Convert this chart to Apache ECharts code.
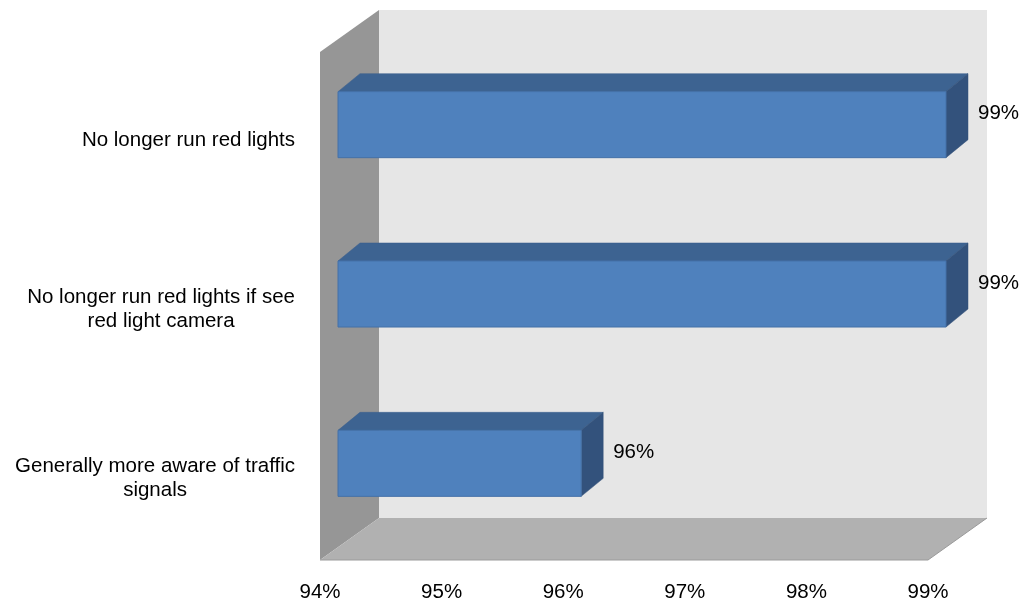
<!DOCTYPE html>
<html>
<head>
<meta charset="utf-8">
<script src="https://cdn.jsdelivr.net/npm/echarts@6/dist/echarts.min.js"></script>
<style>
html,body{margin:0;padding:0;background:#fff;}
#chart{width:1026px;height:603px;}
</style>
</head>
<body>
<div id="chart"></div>
<script>
// ---- data ----
const categories = [
  'No longer run red lights',
  'No longer run red lights if see\nred light camera',
  'Generally more aware of traffic\nsignals'
];
const values = [99, 99, 96];
const axisMin = 94;
const axisMax = 99;
const axisStep = 1;

// ---- styles ----
const FONT = 'Liberation Sans, Arial, sans-serif';
const BOX_DX = 59, BOX_DY = -42;       // depth of the 3D box
const BAR_FDX = 18, BAR_FDY = -12;     // bar front face offset
const BAR_BDX = 40, BAR_BDY = -30;     // bar back face offset
const BAR_RATIO = 0.39;

const chart = echarts.init(document.getElementById('chart'), null, {renderer: 'canvas'});

function renderWalls(params, api) {
  const cs = params.coordSys;
  const x0 = cs.x, y0 = cs.y, x1 = cs.x + cs.width, y1 = cs.y + cs.height;
  return {
    type: 'group',
    children: [
      { type: 'rect', shape: {x: x0 + BOX_DX, y: y0 + BOX_DY, width: cs.width, height: cs.height},
        style: {fill: '#e6e6e6'} },
      { type: 'polygon', shape: {points: [[x0, y0], [x0 + BOX_DX, y0 + BOX_DY], [x0 + BOX_DX, y1 + BOX_DY], [x0, y1]]},
        style: {fill: '#969696'} },
      { type: 'polygon', shape: {points: [[x0, y1], [x0 + BOX_DX, y1 + BOX_DY], [x1 + BOX_DX, y1 + BOX_DY], [x1, y1]]},
        style: {fill: '#b1b1b1'} },
      { type: 'polyline', shape: {points: [[x0, y1], [x1, y1], [x1 + BOX_DX, y1 + BOX_DY]]},
        style: {stroke: '#9a9a9a', lineWidth: 1, fill: null} }
    ]
  };
}

function renderBar(params, api) {
  const v = api.value(0);
  const c = api.value(1);
  const start = api.coord([axisMin, c]);
  const end = api.coord([v, c]);
  const h = api.size([0, 1])[1] * BAR_RATIO;
  const xa = start[0] + BAR_FDX, xb = end[0] + BAR_FDX;
  const ya = end[1] - h / 2 + BAR_FDY, yb = ya + h;
  const ddx = BAR_BDX - BAR_FDX, ddy = BAR_BDY - BAR_FDY;
  return {
    type: 'group',
    children: [
      { type: 'polygon', shape: {points: [[xa, ya], [xb, ya], [xb + ddx, ya + ddy], [xa + ddx, ya + ddy]]},
        style: {fill: '#3d6391', stroke: '#3a5f8c', lineWidth: 0.5} },
      { type: 'polygon', shape: {points: [[xb, ya], [xb + ddx, ya + ddy], [xb + ddx, yb + ddy], [xb, yb]]},
        style: {fill: '#33527c', stroke: '#325079', lineWidth: 0.5} },
      { type: 'rect', shape: {x: xa, y: ya, width: xb - xa, height: h},
        style: {fill: '#4f81bd', stroke: '#4471a8', lineWidth: 1} },
      { type: 'text', x: xb + ddx + 10, y: ya + h / 2 - 11,
        style: {text: v + '%', fill: '#000', font: '20.5px ' + FONT, textAlign: 'left', textVerticalAlign: 'middle'} }
    ]
  };
}

chart.setOption({
  animation: false,
  backgroundColor: '#ffffff',
  grid: {left: 320, right: 98, top: 52, bottom: 43, containLabel: false},
  xAxis: {
    type: 'value', min: axisMin, max: axisMax, interval: axisStep,
    axisLine: {show: false}, axisTick: {show: false}, splitLine: {show: false},
    axisLabel: {formatter: '{value}%', color: '#000', fontSize: 20.5, fontFamily: FONT, margin: 22}
  },
  yAxis: {
    type: 'category', data: categories, inverse: true,
    axisLine: {show: false}, axisTick: {show: false}, splitLine: {show: false},
    axisLabel: {
      color: '#000', fontSize: 20.5, fontFamily: FONT, margin: 25, lineHeight: 24,
      padding: [7, 0, 0, 0],
      formatter: function (val) {
        return val.split('\n').map(function (l) { return '{c|' + l + '}'; }).join('\n');
      },
      rich: {c: {align: 'center', fontSize: 20.5, fontFamily: FONT, lineHeight: 24, color: '#000'}}
    }
  },
  series: [
    { type: 'custom', z: 1, silent: true, renderItem: renderWalls, data: [[axisMin, 0]], clip: false },
    { type: 'custom', z: 2, silent: true, renderItem: renderBar,
      data: values.map(function (v, i) { return [v, i]; }), clip: false }
  ]
});
</script>
</body>
</html>
